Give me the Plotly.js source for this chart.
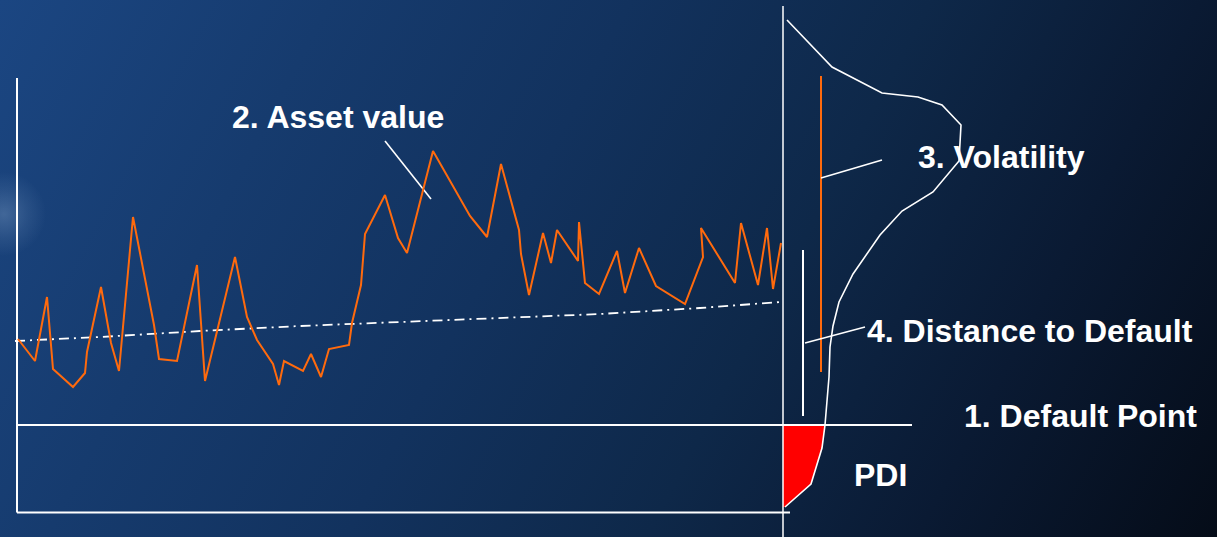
<!DOCTYPE html>
<html>
<head>
<meta charset="utf-8">
<script src="https://cdn.plot.ly/plotly-3.0.1.min.js"></script>
<style>
  html, body { margin: 0; padding: 0; width: 1217px; height: 537px; overflow: hidden; }
  body {
    background:
      radial-gradient(circle at 4px 214px, rgba(150,180,215,0.32) 0px, rgba(150,180,215,0.12) 24px, rgba(0,0,0,0) 42px),
      linear-gradient(118deg, #1b4682 0%, #163b6e 22%, #12325e 42%, #0e2849 62%, #0a1a33 80%, #050c18 100%);
  }
  #chart { width: 1217px; height: 537px; }
</style>
</head>
<body>
<div id="chart"></div>
<script>
// ---- Data (diagram units: x = time/position, y = value; y grows upward) ----
const assetX = [18,35,47,53,73,85,87,101,111,119,133,143,154,159,177,197,205,235,247,257,273,279,284,303,311,321,329,349,352,361,365,385,398,407,433,470,487,501,519,521,529,543,551,557,578,579,585,599,617,625,639,656,685,703,701,735,741,758,767,773,781];
const assetY = [198,176,240,168,150,164,185,250,194,166,320,267,212,178,176,272,156,280,220,197,173,152,176,166,183,160,188,192,214,252,303,342,299,284,386,321,300,373,307,283,242,304,274,307,276,315,254,243,286,244,289,251,233,280,309,254,314,252,309,248,294];

const trendX = [15,100,200,300,400,500,600,700,780];
const trendY = [196,200,206,211,215,219,223,229,235];

// distribution of future asset value (density drawn to the right of the horizon)
const distX = [787,832,882,918,942,961,959,933,902,880,853,839,833,830,829,825,822,811,785];
const distY = [517,470,444,440,432,412,376,345,326,302,263,235,211,190,160,112,89,53,30];

// tail below the default point (PDI)
const tailX = [783,825,822,811,785,783];
const tailY = [112,112,89,53,30,30];

// frame / reference lines
const horizonX = [783,783];      const horizonY = [531,0];
const axisLeftX = [17,17];       const axisLeftY = [459,24.5];
const axisBottomX = [17,790];    const axisBottomY = [24.5,24.5];
const defaultX = [17,912];       const defaultY = [112,112];
const volBarX = [821,821];       const volBarY = [461,165];
const ddBarX = [803,803];        const ddBarY = [287,121];

// leader lines
const assetLeadX = [385,431];    const assetLeadY = [396,338];
const volLeadX = [821,882];      const volLeadY = [359,377];
const ddLeadX = [805,865];       const ddLeadY = [194,210];

// labels
const labels = ["2. Asset value","3. Volatility","4. Distance to Default","1. Default Point","PDI"];
const labelX = [338,1001,1030,1080,880];
const labelY = [420,380,206,121,62];

const white = '#ffffff', orange = '#ff6a0d';
function line(x, y, color, width, dash) {
  return {x: x, y: y, type: 'scatter', mode: 'lines', hoverinfo: 'skip',
          line: {color: color, width: width, dash: dash || 'solid'}};
}

const traces = [
  {x: tailX, y: tailY, type: 'scatter', mode: 'lines', fill: 'toself', fillcolor: '#ff0000',
   line: {color: '#ff0000', width: 0}, hoverinfo: 'skip'},
  line(axisLeftX, axisLeftY, white, 2),
  line(axisBottomX, axisBottomY, white, 2),
  line(defaultX, defaultY, white, 2),
  line(horizonX, horizonY, white, 1.5),
  line(distX, distY, white, 1.6),
  line(volBarX, volBarY, orange, 2),
  line(ddBarX, ddBarY, white, 2),
  line(assetLeadX, assetLeadY, white, 1.6),
  line(volLeadX, volLeadY, white, 1.6),
  line(ddLeadX, ddLeadY, white, 1.6),
  line(trendX, trendY, white, 1.8, '10px,5px,2px,5px'),
  line(assetX, assetY, orange, 2)
];

const annotations = labels.map((t, i) => ({
  x: labelX[i], y: labelY[i], xref: 'x', yref: 'y', text: '<b>' + t + '</b>',
  showarrow: false, xanchor: 'center', yanchor: 'middle',
  font: {family: 'Liberation Sans, Arial, sans-serif', size: 32, color: white}
}));

const layout = {
  width: 1217, height: 537,
  margin: {l: 0, r: 0, t: 0, b: 0, pad: 0},
  paper_bgcolor: 'rgba(0,0,0,0)', plot_bgcolor: 'rgba(0,0,0,0)',
  showlegend: false,
  xaxis: {range: [0, 1217], visible: false, fixedrange: true},
  yaxis: {range: [0, 537], visible: false, fixedrange: true},
  annotations: annotations
};

Plotly.newPlot('chart', traces, layout, {staticPlot: true, displayModeBar: false});
</script>
</body>
</html>
